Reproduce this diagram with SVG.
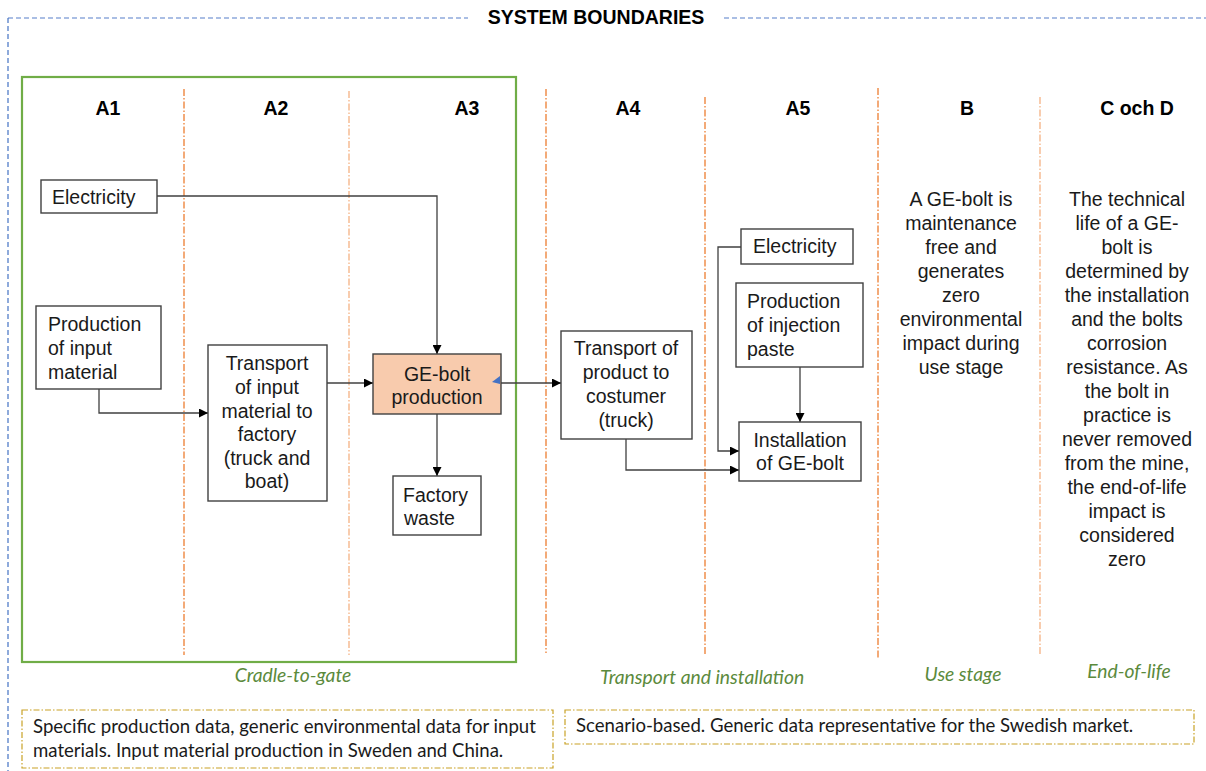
<svg xmlns="http://www.w3.org/2000/svg" width="1206" height="771" viewBox="0 0 1206 771">
<style>
.lbl{font-family:"Liberation Sans",Arial,sans-serif;font-weight:bold;font-size:19.5px;fill:#000;text-anchor:middle}
.t{font-family:"Liberation Sans",Arial,sans-serif;font-size:19.5px;fill:#1a1a1a}
.c{text-anchor:middle}
.box{fill:#fff;stroke:#404040;stroke-width:1.4}
.div{stroke:#ED7D31;stroke-width:1.3;stroke-dasharray:7 2 1.5 2;fill:none}
.lite{stroke:#F4B183}
.conn{fill:none;stroke:#404040;stroke-width:1.3}
.grn{font-family:Lato,"Open Sans",sans-serif;font-style:italic;font-size:19.3px;fill:#5B8A3C;text-anchor:middle}
.note{fill:none;stroke:#C9A227;stroke-width:1.2;stroke-dasharray:6 2 1.5 2}
.nt{font-family:Lato,"Open Sans",sans-serif;font-size:18.6px;fill:#1a1a1a}
</style>
<defs>
<marker id="arr" viewBox="0 0 10 10" refX="10" refY="5" markerWidth="9" markerHeight="9" markerUnits="userSpaceOnUse" orient="auto">
<path d="M0,0 L10,5 L0,10 z" fill="#000"/>
</marker>
</defs>
<rect width="1206" height="771" fill="#fff"/>
<g id="boundary">
<path d="M8,18 H468 M724,18 H1206" stroke="#8EA9DB" stroke-width="1.3" stroke-dasharray="5 3" fill="none"/>
<path d="M8,18 V771" stroke="#4472C4" stroke-width="1.2" stroke-dasharray="5 3" fill="none"/>
<text x="596" y="24" class="lbl">SYSTEM BOUNDARIES</text>
</g>
<g id="cradle-box">
<rect x="22" y="77" width="494" height="585" fill="none" stroke="#70AD47" stroke-width="2.2"/>
</g>
<g id="dividers">
<line class="div" x1="184" y1="89" x2="184" y2="655"/>
<line class="div lite" x1="349" y1="91" x2="349" y2="655"/>
<line class="div" x1="546" y1="89" x2="546" y2="653"/>
<line class="div" x1="705" y1="97" x2="705" y2="656"/>
<line class="div" x1="878" y1="88" x2="878" y2="659"/>
<line class="div lite" x1="1040" y1="97" x2="1040" y2="655"/>
</g>
<g id="stage-labels">
<text x="108" y="115" class="lbl">A1</text>
<text x="276" y="115" class="lbl">A2</text>
<text x="467" y="115" class="lbl">A3</text>
<text x="628" y="115" class="lbl">A4</text>
<text x="798" y="115" class="lbl">A5</text>
<text x="967" y="115" class="lbl">B</text>
<text x="1137" y="115" class="lbl">C och D</text>
</g>
<g id="connectors">
<path class="conn" d="M157,196 H437 V354" marker-end="url(#arr)"/>
<path class="conn" d="M99,389 V413 H208" marker-end="url(#arr)"/>
<path class="conn" d="M327,383 H373" marker-end="url(#arr)"/>
<path class="conn" d="M501,383 H561" marker-end="url(#arr)"/>
<path class="conn" d="M437,414 V476" marker-end="url(#arr)"/>
<path class="conn" d="M626,439 V470 H739" marker-end="url(#arr)"/>
<path class="conn" d="M741,247 H718 V451 H739" marker-end="url(#arr)"/>
<path class="conn" d="M800,367 V422" marker-end="url(#arr)"/>
</g>
<g id="electricity-a1">
<rect class="box" x="41" y="180" width="116" height="33"/>
<text class="t" x="52" y="204">Electricity</text>
</g>
<g id="production-input">
<rect class="box" x="36" y="306" width="125" height="83"/>
<text class="t" x="48" y="331">Production</text>
<text class="t" x="48" y="355">of input</text>
<text class="t" x="48" y="379">material</text>
</g>
<g id="transport-input">
<rect class="box" x="208" y="345" width="119" height="156"/>
<text class="t c" x="267" y="370">Transport</text>
<text class="t c" x="267" y="394">of input</text>
<text class="t c" x="267" y="418">material to</text>
<text class="t c" x="267" y="441">factory</text>
<text class="t c" x="267" y="465">(truck and</text>
<text class="t c" x="267" y="488">boat)</text>
</g>
<g id="ge-bolt-production">
<rect x="373" y="354" width="128" height="60" fill="#F8CBAD" stroke="#404040" stroke-width="1.4"/>
<text class="t c" x="437" y="381">GE-bolt</text>
<text class="t c" x="437" y="404">production</text>
<polygon points="492,382 500,376 500,384" fill="#4472C4"/>
</g>
<g id="factory-waste">
<rect class="box" x="393" y="476" width="88" height="59"/>
<text class="t" x="403" y="502">Factory</text>
<text class="t" x="404" y="525">waste</text>
</g>
<g id="transport-product">
<rect class="box" x="561" y="331" width="131" height="108"/>
<text class="t c" x="626" y="355">Transport of</text>
<text class="t c" x="626" y="379">product to</text>
<text class="t c" x="626" y="403">costumer</text>
<text class="t c" x="626" y="427">(truck)</text>
</g>
<g id="electricity-a5">
<rect class="box" x="741" y="229" width="112" height="35"/>
<text class="t" x="753" y="253">Electricity</text>
</g>
<g id="injection-paste">
<rect class="box" x="736" y="283" width="127" height="84"/>
<text class="t" x="747" y="308">Production</text>
<text class="t" x="747" y="332">of injection</text>
<text class="t" x="747" y="356">paste</text>
</g>
<g id="installation">
<rect class="box" x="739" y="422" width="122" height="59"/>
<text class="t c" x="800" y="447">Installation</text>
<text class="t c" x="800" y="470">of GE-bolt</text>
</g>
<g id="use-stage-text">
<text class="t c" x="961" y="206">A GE-bolt is</text>
<text class="t c" x="961" y="230">maintenance</text>
<text class="t c" x="961" y="254">free and</text>
<text class="t c" x="961" y="278">generates</text>
<text class="t c" x="961" y="302">zero</text>
<text class="t c" x="961" y="326">environmental</text>
<text class="t c" x="961" y="350">impact during</text>
<text class="t c" x="961" y="374">use stage</text>
</g>
<g id="end-of-life-text">
<text class="t c" x="1127" y="206">The technical</text>
<text class="t c" x="1127" y="230">life of a GE-</text>
<text class="t c" x="1127" y="254">bolt is</text>
<text class="t c" x="1127" y="278">determined by</text>
<text class="t c" x="1127" y="302">the installation</text>
<text class="t c" x="1127" y="326">and the bolts</text>
<text class="t c" x="1127" y="350">corrosion</text>
<text class="t c" x="1127" y="374">resistance. As</text>
<text class="t c" x="1127" y="398">the bolt in</text>
<text class="t c" x="1127" y="422">practice is</text>
<text class="t c" x="1127" y="446">never removed</text>
<text class="t c" x="1127" y="470">from the mine,</text>
<text class="t c" x="1127" y="494">the end-of-life</text>
<text class="t c" x="1127" y="518">impact is</text>
<text class="t c" x="1127" y="542">considered</text>
<text class="t c" x="1127" y="566">zero</text>
</g>
<g id="phase-labels">
<text class="grn" x="293" y="682">Cradle-to-gate</text>
<text class="grn" x="702" y="684">Transport and installation</text>
<text class="grn" x="963" y="681">Use stage</text>
<text class="grn" x="1129" y="678">End-of-life</text>
</g>
<g id="note-cradle">
<rect class="note" x="22" y="710" width="531" height="58"/>
<text class="nt" x="33" y="733">Specific production data, generic environmental data for input</text>
<text class="nt" x="33" y="757">materials. Input material production in Sweden and China.</text>
</g>
<g id="note-scenario">
<rect class="note" x="565" y="710" width="629" height="34"/>
<text class="nt" x="576" y="732">Scenario-based. Generic data representative for the Swedish market.</text>
</g>
</svg>
